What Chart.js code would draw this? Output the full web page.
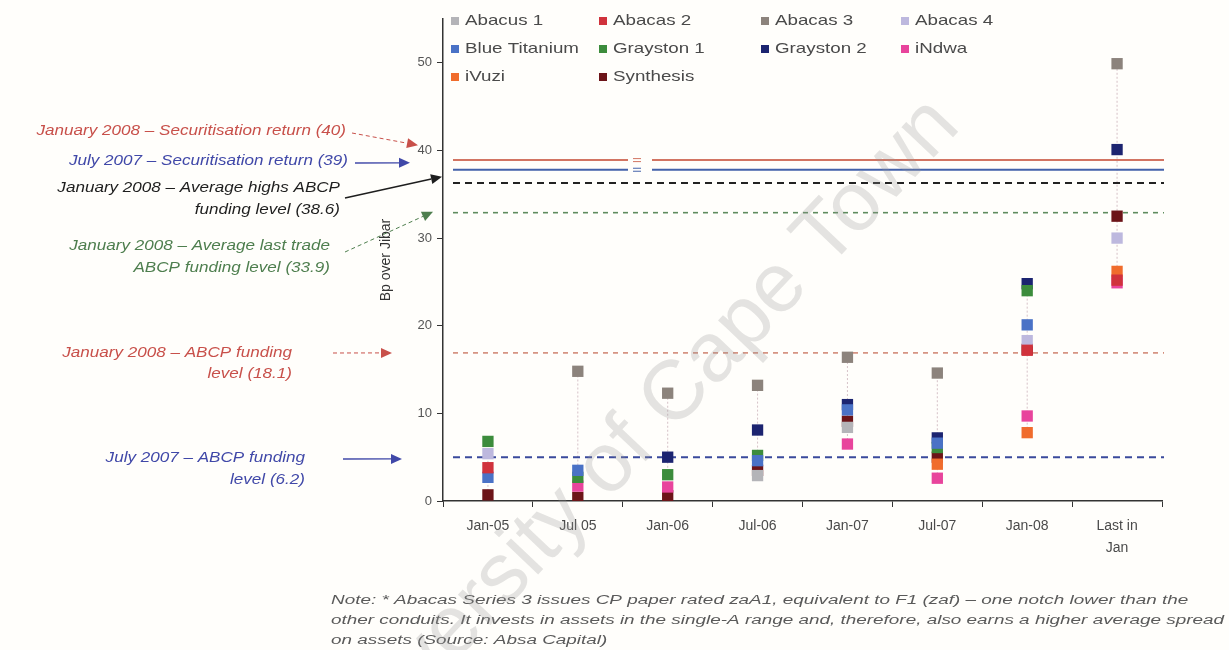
<!DOCTYPE html>
<html>
<head>
<meta charset="utf-8">
<script src="https://cdn.jsdelivr.net/npm/chart.js@4.4.1/dist/chart.umd.min.js"></script>
<style>
  html, body { margin: 0; padding: 0; background: #fffefb; }
  #wrap { width: 1229px; height: 650px; }
</style>
</head>
<body>
<div id="wrap"><canvas id="myChart" width="1229" height="650"></canvas></div>
<script>
// ===================== DATA =====================
const categories = ['Jan-05', 'Jul 05', 'Jan-06', 'Jul-06', 'Jan-07', 'Jul-07', 'Jan-08', ['Last in', 'Jan']];

const abacus1      = [null, null, null, 2.9, 8.4, null, null, null];
const abacas2      = [3.8, null, null, null, null, null, 17.2, 25.2];
const abacas3      = [null, 14.8, 12.3, 13.2, 16.4, 14.6, null, 49.9];
const abacas4      = [5.4, null, null, null, null, null, 18.3, 30.0];
const blueTitanium = [2.7, 3.5, null, 4.6, 10.4, 6.6, 20.1, null];
const grayston1    = [6.8, 2.7, 3.0, 5.2, null, 6.1, 24.0, null];
const grayston2    = [null, null, 5.0, 8.1, 11.0, 7.2, 24.8, 40.1];
const indwa        = [null, 1.7, 1.6, null, 6.5, 2.6, 9.7, 24.9];
const ivuzi        = [null, null, null, null, null, 4.2, 7.8, 26.2];
const synthesis    = [0.7, 0.4, 0.6, 3.5, 9.1, 5.0, 17.3, 32.5];

const seriesNames = ['Abacus 1', 'Abacas 2', 'Abacas 3', 'Abacas 4', 'Blue Titanium',
                     'Grayston 1', 'Grayston 2', 'iNdwa', 'iVuzi', 'Synthesis'];
const seriesData = [abacus1, abacas2, abacas3, abacas4, blueTitanium,
                    grayston1, grayston2, indwa, ivuzi, synthesis];

// horizontal reference levels (as drawn): sec. return Jan08, sec. return Jul07,
// avg highs Jan08, avg last trade Jan08, ABCP funding Jan08, ABCP funding Jul07
const refLevels = [38.9, 37.8, 36.3, 32.9, 16.9, 5.0];
// where each annotation arrow points on the y axis
const arrowTargets = [40.6, 38.6, 37.0, 33.0, 16.9, 4.8];

const annotationLines = [
  ['January 2008 – Securitisation return (40)'],
  ['July 2007 – Securitisation return (39)'],
  ['January 2008 – Average highs ABCP', 'funding level (38.6)'],
  ['January 2008 – Average last trade', 'ABCP funding level (33.9)'],
  ['January 2008 – ABCP funding', 'level (18.1)'],
  ['July 2007 – ABCP funding', 'level (6.2)']
];

const noteLines = [
  'Note: * Abacas Series 3 issues CP paper rated zaA1, equivalent to F1 (zaf) – one notch lower than the',
  'other conduits. It invests in assets in the single-A range and, therefore, also earns a higher average spread',
  'on assets (Source: Absa Capital)'
];

const yAxisTitle = 'Bp over Jibar';
const watermark = 'University of Cape Town';

// ===================== STYLES =====================
const seriesColors = ['#b4b4b8', '#d0323c', '#8c837c', '#bdb8de', '#4a72c6',
                      '#3c8c3c', '#1c2470', '#e8449c', '#f06c2c', '#6c1418'];

const refStyles = [
  {color: '#d27462', width: 2, dash: [], gap: true},
  {color: '#4462aa', width: 2, dash: [], gap: true},
  {color: '#222222', width: 2, dash: [7, 5]},
  {color: '#5e8c5e', width: 1.6, dash: [5, 5]},
  {color: '#d28a78', width: 1.6, dash: [5, 5]},
  {color: '#3a4a9c', width: 2, dash: [7, 5]}
];

const annotationStyles = [
  {color: '#c8504a', right: 346, y: [131], from: [352, 133], toX: 418, dash: [4, 3], lw: 1},
  {color: '#4048a8', right: 348, y: [161], from: [355, 163], toX: 410, dash: [], lw: 1.3},
  {color: '#1e1e1e', right: 340, y: [188, 210], from: [345, 198], toX: 442, dash: [], lw: 1.5},
  {color: '#4e7e4e', right: 330, y: [246, 268], from: [345, 252], toX: 433, dash: [4, 3], lw: 1},
  {color: '#c8504a', right: 292, y: [353, 374], from: [333, 353], toX: 392, dash: [4, 3], lw: 1},
  {color: '#4048a8', right: 305, y: [458, 480], from: [343, 459], toX: 402, dash: [], lw: 1.3}
];

function stretchText(ctx, text, x, y, align, sx) {
  ctx.save();
  ctx.translate(x, y);
  ctx.scale(sx, 1);
  ctx.textAlign = align;
  ctx.fillText(text, 0, 0);
  ctx.restore();
}

function arrow(ctx, x0, y0, x1, y1, color, dash, lw) {
  const ang = Math.atan2(y1 - y0, x1 - x0);
  const hl = 11, hw = 5;
  const bx = x1 - hl * Math.cos(ang), by = y1 - hl * Math.sin(ang);
  ctx.save();
  ctx.strokeStyle = color;
  ctx.fillStyle = color;
  ctx.lineWidth = lw;
  ctx.setLineDash(dash);
  ctx.beginPath();
  ctx.moveTo(x0, y0);
  ctx.lineTo(bx, by);
  ctx.stroke();
  ctx.setLineDash([]);
  ctx.beginPath();
  ctx.moveTo(x1, y1);
  ctx.lineTo(bx + hw * Math.sin(ang), by - hw * Math.cos(ang));
  ctx.lineTo(bx - hw * Math.sin(ang), by + hw * Math.cos(ang));
  ctx.closePath();
  ctx.fill();
  ctx.restore();
}

const extras = {
  id: 'extras',
  beforeDraw(chart) {
    const ctx = chart.ctx;
    ctx.save();
    ctx.fillStyle = '#fffefb';
    ctx.fillRect(0, 0, chart.width, chart.height);
    ctx.restore();
  },
  beforeDatasetsDraw(chart) {
    const ctx = chart.ctx;
    const y = chart.scales.y, x = chart.scales.x;
    const area = chart.chartArea;

    // high-low connectors per category
    ctx.save();
    ctx.strokeStyle = 'rgba(196,168,178,0.7)';
    ctx.lineWidth = 1;
    ctx.setLineDash([2, 2]);
    categories.forEach((c, i) => {
      const vals = seriesData.map(s => s[i]).filter(v => v !== null);
      if (vals.length < 2) return;
      const px = x.getPixelForValue(i);
      ctx.beginPath();
      ctx.moveTo(px, y.getPixelForValue(Math.min(...vals)));
      ctx.lineTo(px, y.getPixelForValue(Math.max(...vals)));
      ctx.stroke();
    });
    ctx.restore();

    // reference levels
    refLevels.forEach((v, k) => {
      const st = refStyles[k];
      const py = y.getPixelForValue(v);
      const x0 = area.left + 10, x1 = area.right + 2;
      ctx.save();
      ctx.strokeStyle = st.color;
      ctx.lineWidth = st.width;
      ctx.setLineDash(st.dash);
      ctx.beginPath();
      if (st.gap) {
        ctx.moveTo(x0, py); ctx.lineTo(628, py);
        ctx.moveTo(652, py); ctx.lineTo(x1, py);
        ctx.stroke();
        ctx.lineWidth = 1;
        ctx.beginPath();
        ctx.moveTo(633, py - 1.5); ctx.lineTo(641, py - 1.5);
        ctx.moveTo(633, py + 1.5); ctx.lineTo(641, py + 1.5);
      } else {
        ctx.moveTo(x0, py); ctx.lineTo(x1, py);
      }
      ctx.stroke();
      ctx.restore();
    });
  },
  afterDraw(chart) {
    const ctx = chart.ctx;
    const y = chart.scales.y;

    // legend in 4 columns
    const colX = [455, 603, 765, 905];
    const rowY = [21, 49, 77];
    ctx.save();
    ctx.font = '15px "Liberation Sans", Arial, sans-serif';
    ctx.textBaseline = 'middle';
    seriesNames.forEach((n, i) => {
      const cx = colX[i % 4], cy = rowY[Math.floor(i / 4)];
      ctx.fillStyle = seriesColors[i];
      ctx.fillRect(cx - 4, cy - 4, 8, 8);
      ctx.fillStyle = '#4a4a4a';
      stretchText(ctx, n, cx + 10, cy, 'left', 1.25);
    });
    ctx.restore();

    // annotations with arrows
    ctx.save();
    ctx.font = 'italic 14px "Liberation Sans", Arial, sans-serif';
    ctx.textBaseline = 'middle';
    annotationLines.forEach((lines, k) => {
      const st = annotationStyles[k];
      ctx.fillStyle = st.color;
      lines.forEach((t, j) => stretchText(ctx, t, st.right, st.y[j], 'right', 1.22));
      arrow(ctx, st.from[0], st.from[1], st.toX, y.getPixelForValue(arrowTargets[k]), st.color, st.dash, st.lw);
    });
    ctx.restore();

    // note
    ctx.save();
    ctx.font = 'italic 12px "Liberation Sans", Arial, sans-serif';
    ctx.textBaseline = 'middle';
    ctx.fillStyle = '#5a5a5a';
    const sx = 893 / ctx.measureText(noteLines[1]).width;
    noteLines.forEach((t, j) => stretchText(ctx, t, 331, 601 + j * 20, 'left', sx));
    ctx.restore();

    // watermark
    ctx.save();
    ctx.translate(945, 112);
    ctx.rotate(-46.5 * Math.PI / 180);
    ctx.font = '84px "Liberation Sans", Arial, sans-serif';
    ctx.fillStyle = 'rgba(150,150,150,0.26)';
    ctx.textAlign = 'right';
    ctx.textBaseline = 'middle';
    ctx.fillText(watermark, 0, 0);
    ctx.restore();
  }
};

// ===================== CHART =====================
const ctx = document.getElementById('myChart');

const datasets = seriesNames.map((n, i) => ({
  label: n,
  data: seriesData[i],
  showLine: false,
  pointStyle: 'rect',
  pointRadius: 8,
  pointHoverRadius: 8,
  pointBorderWidth: 0,
  backgroundColor: seriesColors[i],
  borderColor: seriesColors[i]
}));

const myChart = new Chart(ctx, {
  type: 'line',
  data: {labels: categories, datasets: datasets},
  plugins: [extras],
  options: {
    responsive: false,
    devicePixelRatio: 1,
    animation: false,
    layout: {padding: {left: 378, right: 67, top: 19, bottom: 0}},
    plugins: {legend: {display: false}, tooltip: {enabled: false}},
    scales: {
      x: {
        offset: true,
        grid: {offset: true, drawOnChartArea: false, tickLength: 6, color: '#333'},
        border: {color: '#333', width: 1.5},
        ticks: {color: '#4a4a4a', padding: 8, font: {family: '"Liberation Sans", Arial, sans-serif', size: 14, lineHeight: 1.6}, maxRotation: 0},
        afterFit: s => { s.height = 149; }
      },
      y: {
        min: 0,
        max: 55,
        grid: {drawOnChartArea: false, tickLength: 6, color: '#333'},
        border: {color: '#333', width: 1.5},
        ticks: {stepSize: 10, includeBounds: false, color: '#555', padding: 5, font: {family: '"Liberation Sans", Arial, sans-serif', size: 13}},
        title: {display: true, text: yAxisTitle, color: '#333', padding: 0, font: {family: '"Liberation Sans", Arial, sans-serif', size: 14}},
        afterFit: s => { s.width = 65; }
      }
    }
  }
});
</script>
</body>
</html>
